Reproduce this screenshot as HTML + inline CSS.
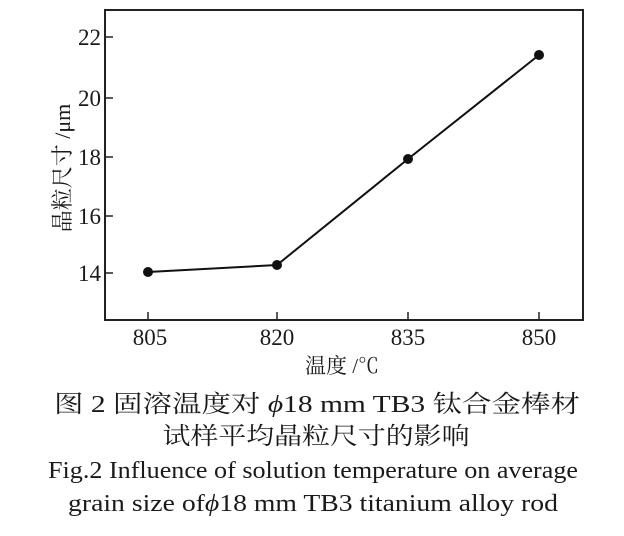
<!DOCTYPE html>
<html><head><meta charset="utf-8"><style>
html,body{margin:0;padding:0;background:#fff;}
svg{display:block;}
text{font-family:"Liberation Serif","Noto Serif CJK SC",serif;fill:#1a1a1a;}
</style></head><body>
<svg width="624" height="536" viewBox="0 0 624 536" xmlns="http://www.w3.org/2000/svg">
<rect x="105" y="10" width="478" height="310" fill="none" stroke="#222" stroke-width="2"/>
<g stroke="#222" stroke-width="1.5">
<line x1="105" y1="37" x2="113" y2="37"/>
<line x1="105" y1="98" x2="113" y2="98"/>
<line x1="105" y1="157" x2="113" y2="157"/>
<line x1="105" y1="216" x2="113" y2="216"/>
<line x1="105" y1="273" x2="113" y2="273"/>
<line x1="148" y1="320" x2="148" y2="312"/>
<line x1="277" y1="320" x2="277" y2="312"/>
<line x1="408" y1="320" x2="408" y2="312"/>
<line x1="539" y1="320" x2="539" y2="312"/>
</g>
<g font-size="23" text-anchor="end">
<text x="101" y="45">22</text>
<text x="101" y="106">20</text>
<text x="101" y="165">18</text>
<text x="101" y="224">16</text>
<text x="101" y="281">14</text>
</g>
<g font-size="23" text-anchor="middle">
<text x="150" y="345">805</text>
<text x="277" y="345">820</text>
<text x="408" y="345">835</text>
<text x="539" y="345">850</text>
</g>
<polyline points="148,272 277,265 408,159 539,55" fill="none" stroke="#111" stroke-width="2"/>
<g fill="#111">
<circle cx="148" cy="272" r="5"/><circle cx="277" cy="265" r="5"/>
<circle cx="408" cy="159" r="5"/><circle cx="539" cy="55" r="5"/>
</g>
<text x="342" y="373" font-size="21" text-anchor="middle">温度 /℃</text>
<text transform="translate(70,168) rotate(-90)" font-size="22" text-anchor="middle">晶粒尺寸 /μm</text>
<g font-size="24" text-anchor="middle">
<text x="317" y="412" textLength="526" lengthAdjust="spacingAndGlyphs">图 2  固溶温度对 <tspan font-style="italic">ϕ</tspan>18 mm TB3 钛合金棒材</text>
<text x="316" y="444" textLength="307" lengthAdjust="spacingAndGlyphs">试样平均晶粒尺寸的影响</text>
<text x="313" y="478" textLength="530" lengthAdjust="spacingAndGlyphs">Fig.2  Influence of solution temperature on average</text>
<text x="313" y="511" textLength="490" lengthAdjust="spacingAndGlyphs">grain size of<tspan font-style="italic">ϕ</tspan>18 mm TB3 titanium alloy rod</text>
</g>
</svg>
</body></html>
